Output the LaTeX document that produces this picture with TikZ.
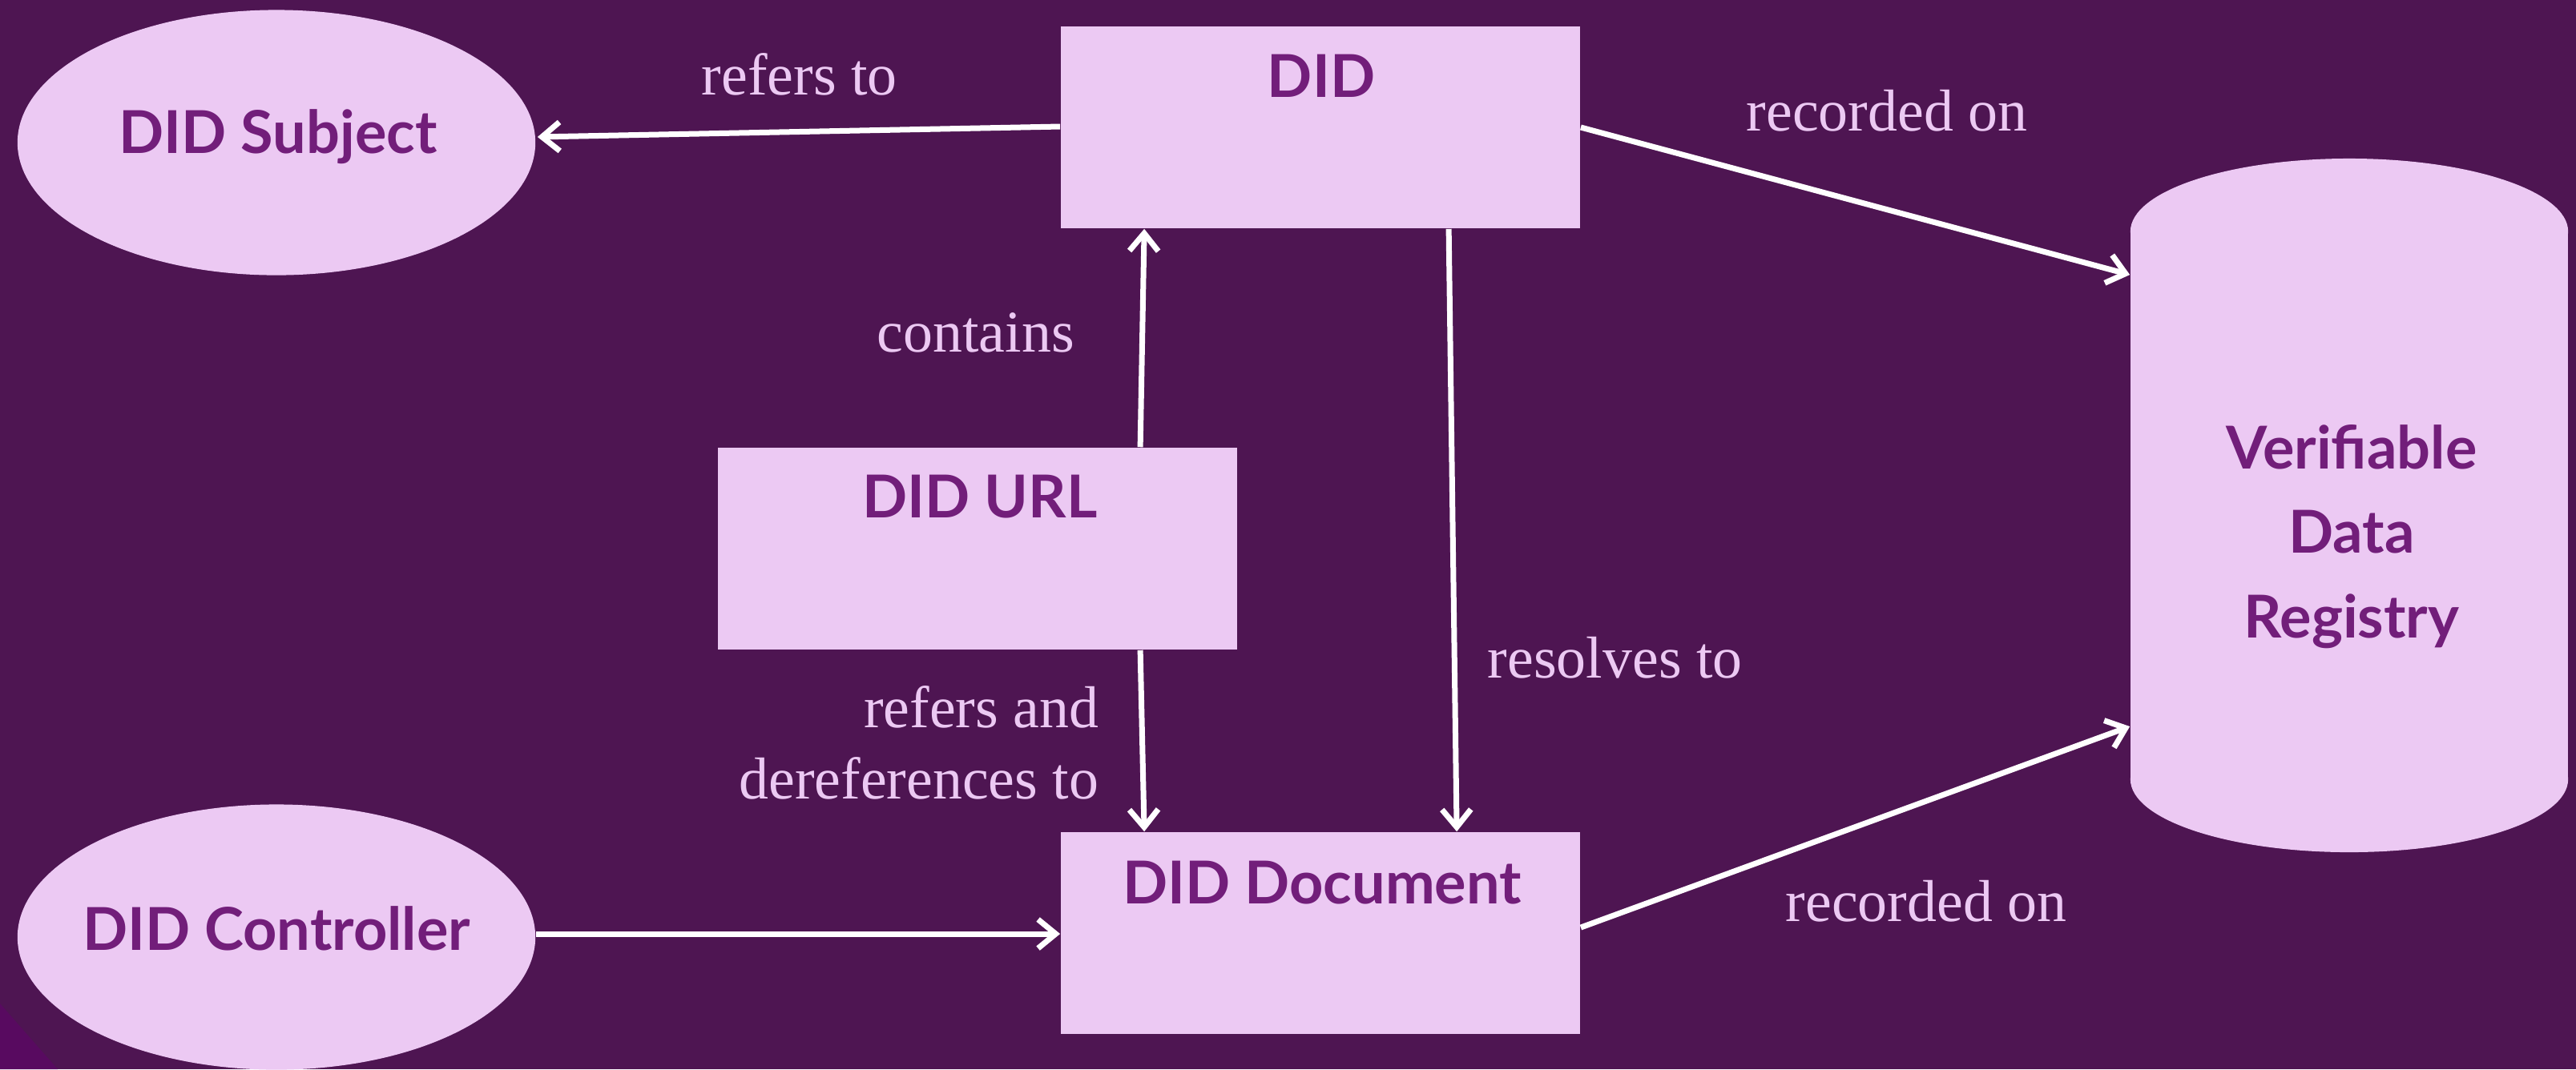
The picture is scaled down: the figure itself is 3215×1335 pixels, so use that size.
\documentclass[tikz,border=0pt]{standalone}
\usepackage{fontspec}
\setmainfont{Liberation Serif}
\newfontfamily\boxfont{Lato}
\usetikzlibrary{shapes.geometric,arrows.meta,calc}
\definecolor{bgc}{RGB}{78,21,82}
\definecolor{shapefill}{RGB}{236,201,243}
\definecolor{txt}{RGB}{114,30,122}
\definecolor{lav}{RGB}{236,201,243}
\definecolor{corner}{RGB}{88,10,96}
\begin{document}
\begin{tikzpicture}[x=0.01cm,y=-0.01cm,
  box/.style={rectangle, fill=shapefill, minimum width=6.48cm, minimum height=2.52cm, inner sep=0pt},
  oval/.style={ellipse, fill=shapefill, minimum width=6.46cm, minimum height=3.31cm, inner sep=0pt},
  boxtext/.style={anchor=base, inner sep=0pt, text=txt, font=\boxfont\bfseries\fontsize{21}{25}\selectfont},
  lbl/.style={anchor=base west, inner sep=0pt, text=lav, font=\fontsize{21}{25.3}\selectfont},
  arr/.style={draw=white, line width=0.7mm, -{Straight Barb[length=2.2mm,width=3.6mm]}}
]
\useasboundingbox (0,0) rectangle (3215,1335);
\fill[bgc] (0,0) rectangle (3215,1335);
\fill[corner] (0,1253) -- (72,1335) -- (0,1335) -- cycle;

% cylinder body
\fill[shapefill] (2659,289) rectangle (3205,973);
\fill[shapefill] (2932,289) ellipse [x radius=2.73cm, y radius=0.91cm];
\fill[shapefill] (2932,973) ellipse [x radius=2.73cm, y radius=0.91cm];
\node (vdr) [rectangle, inner sep=0pt, minimum width=5.46cm, minimum height=8.66cm] at (2932,631) {};
\node (vdrtext) [align=center, inner sep=0pt, text=txt, font=\boxfont\bfseries\fontsize{21}{29.9}\selectfont] at (2935,670) {Verifiable\\Data\\Registry};

% ellipses
\node (subj) [oval] at (345,178) {};
\node (ctrl) [oval] at (345,1170) {};
\node (subjtext) [boxtext] at (347,191) {DID Subject};
\node (ctrltext) [boxtext] at (345,1186) {DID Controller};

% boxes
\node (did) [box] at (1648,159) {};
\node (url) [box] at (1220,685) {};
\node (doc) [box] at (1648,1165) {};
\node (didtext) [boxtext] at (1649,121) {DID};
\node (urltext) [boxtext] at (1223,646) {DID URL};
\node (doctext) [boxtext] at (1650,1128) {DID Document};

% connectors
\draw[arr] ($(did.west)+(0,-1)$) -- ($(subj.east)+(2,-7)$);
\draw[arr] (did.east) -- ($(vdr.north west)+(0,146)$);
\draw[arr] ($(url.north west)+(528,0)$) -- ($(did.south west)+(105,0)$);
\draw[arr] ($(url.south west)+(528,0)$) -- ($(doc.north west)+(105,0)$);
\draw[arr] ($(did.south west)+(485,0)$) -- ($(doc.north west)+(495,0)$);
\draw[arr] ($(ctrl.east)+(0,-4)$) -- ($(doc.west)+(0,1)$);
\draw[arr] ($(doc.east)+(0,-7)$) -- ($(vdr.north west)+(0,710)$);

% labels
\node (l1) [lbl] at (875,118) {refers to};
\node (l2) [lbl] at (2179,163) {recorded on};
\node (l3) [lbl] at (1094,439) {contains};
\node (l4) [lbl] at (1856,846) {resolves to};
\node (l5) [anchor=east, align=right, inner sep=0pt, text=lav, font=\fontsize{21}{25.3}\selectfont] at (1372,927) {refers and\\dereferences to};
\node (l6) [lbl] at (2228,1150) {recorded on};
\end{tikzpicture}
\end{document}
